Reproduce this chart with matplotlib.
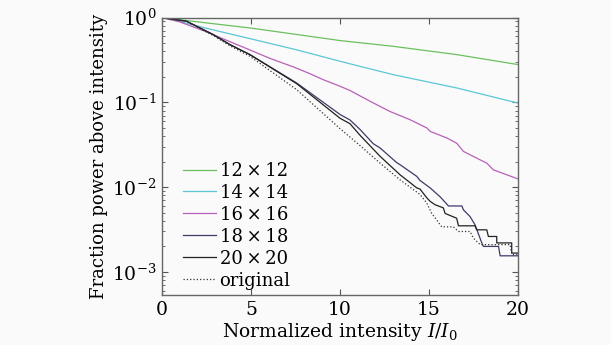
import matplotlib
matplotlib.use("Agg")
import matplotlib.pyplot as plt
from matplotlib.ticker import LogLocator, NullFormatter, FixedLocator

plt.rcParams['font.family'] = ['DejaVu Serif']
plt.rcParams['mathtext.fontset'] = 'dejavuserif'

labels = ['12\u2009×\u200912', '14\u2009×\u200914', '16\u2009×\u200916',
          '18\u2009×\u200918', '20\u2009×\u200920', 'original']

x_12 = [0, 1, 2.42, 4.94, 7.5, 10, 13, 16.55, 20]
y_12 = [1, 0.945, 0.87, 0.755, 0.635, 0.536, 0.458, 0.366, 0.279]

x_14 = [0, 1, 2.42, 4.94, 7.5, 9.44, 10.56, 13, 16.55, 20]
y_14 = [1, 0.9, 0.755, 0.565, 0.42, 0.328, 0.285, 0.212, 0.148, 0.098]

x_16 = [0, 1, 2.42, 3.82, 4.94, 6.07, 7.38, 8.31, 9.06, 10, 10.56, 11.69, 12.81,
        13.93, 14.87, 15.06, 16.0, 16.55, 16.93, 17.49, 18.24, 18.61, 19.36, 20]
y_16 = [1, 0.89, 0.69, 0.52, 0.415, 0.33, 0.262, 0.218, 0.185, 0.155, 0.138,
        0.103, 0.078, 0.0625, 0.050, 0.0455, 0.038, 0.033, 0.0264, 0.023, 0.0192,
        0.016, 0.014, 0.0125]

x_18 = [0, 1.39, 2.88, 3.82, 4.94, 7.57, 10, 10.56, 11.12, 11.87, 12.25, 13.18,
        13.37, 14.31, 14.49, 15.06, 15.62, 16.09, 16.84, 16.93, 17.30, 17.58,
        17.96, 18.05, 18.90, 18.99, 20]
y_18 = [1, 0.905, 0.63, 0.48, 0.366, 0.169, 0.072, 0.062, 0.048, 0.0325, 0.029,
        0.0195, 0.0184, 0.0134, 0.012, 0.0098, 0.0077, 0.006, 0.006, 0.0054,
        0.0045, 0.0036, 0.0022, 0.002, 0.002, 0.00155, 0.00155]

x_20 = [0, 1.39, 2.88, 3.82, 4.94, 7.57, 10, 10.56, 11.12, 12.25, 13.37, 14.31,
        14.49, 14.87, 15.06, 15.34, 15.80, 15.90, 16.55, 16.65, 17.58, 17.67,
        18.24, 18.33, 18.80, 18.80, 19.64, 19.64, 20]
y_20 = [1, 0.905, 0.63, 0.48, 0.366, 0.166, 0.065, 0.056, 0.041, 0.0231, 0.014,
        0.0098, 0.0095, 0.0075, 0.0068, 0.0062, 0.0057, 0.0049, 0.0043, 0.0035,
        0.0035, 0.00314, 0.00314, 0.00262, 0.00262, 0.0022, 0.0022, 0.00167, 0.00167]

x_orig = [0, 1.39, 2.88, 3.82, 4.94, 7.57, 10, 11.12, 12.25, 13.37, 14.49,
          14.87, 15.15, 15.43, 15.71, 16.37, 16.65, 17.30, 17.49, 17.87, 19.55,
          19.65, 20]
y_orig = [1, 0.9, 0.615, 0.465, 0.35, 0.141, 0.049, 0.031, 0.0192, 0.0122,
          0.0082, 0.0065, 0.0049, 0.0041, 0.0034, 0.0034, 0.0030, 0.0030, 0.0025,
          0.0021, 0.0021, 0.0016, 0.0016]

series = [(x_12, y_12), (x_14, y_14), (x_16, y_16), (x_18, y_18), (x_20, y_20), (x_orig, y_orig)]
colors = ['#6cbf5f', '#5cc6d6', '#b860b8', '#3f3a6a', '#222222', '#333333']
styles = ['-', '-', '-', '-', '-', ':']

fig = plt.figure(figsize=(6.11, 3.45), dpi=100, facecolor='#fafafa')
ax = fig.add_axes([0.265, 0.145, 0.583, 0.804])
ax.set_facecolor('#fafafa')

for (xs, ys), c, ls, lab in zip(series, colors, styles, labels):
    ax.plot(xs, ys, color=c, linestyle=ls, linewidth=0.9, label=lab)

ax.set_yscale('log')
ax.set_xlim(0, 20)
ax.set_ylim(5.35e-4, 1)
ax.xaxis.set_major_locator(FixedLocator([0, 5, 10, 15, 20]))
ax.yaxis.set_major_locator(LogLocator(base=10, numticks=10))
ax.yaxis.set_minor_locator(LogLocator(base=10, subs=range(2, 10), numticks=20))
ax.yaxis.set_minor_formatter(NullFormatter())

ax.tick_params(which='both', direction='in', top=True, right=True,
               colors='#555555', labelcolor='black', labelsize=13.5)
ax.tick_params(which='major', length=4, width=0.8, pad=4)
ax.tick_params(which='minor', length=2.5, width=0.6)
for s in ax.spines.values():
    s.set_color('#666666')
    s.set_linewidth(1.0)

ax.set_xlabel(r'Normalized intensity $I/I_0$', fontsize=13.5, labelpad=2)
ax.set_ylabel('Fraction power above intensity', fontsize=13, labelpad=3)

leg = ax.legend(loc='lower left', bbox_to_anchor=(0.059, 0.019), frameon=False,
                fontsize=13, handlelength=1.83, handletextpad=0.2,
                labelspacing=0.22, borderaxespad=0, borderpad=0)

fig.savefig('out.png', dpi=100, facecolor=fig.get_facecolor())
